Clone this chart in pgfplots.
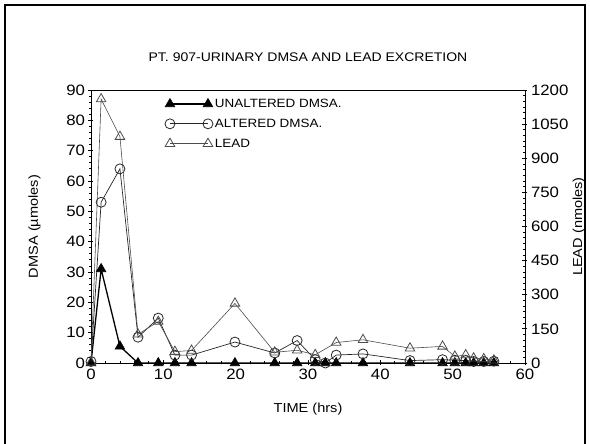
\documentclass[border=0pt]{standalone}
\usepackage{fontspec}
\setmainfont{Liberation Sans}[FakeStretch=1.12]
\usepackage{pgfplots}
\pgfplotsset{compat=1.18}

\pgfplotsset{
  endsmarks/.style={legend image code/.code={%
    \draw[mark repeat=2,mark phase=1,##1] plot coordinates {(0pt,0pt) (19pt,0pt) (38pt,0pt)};}},
}

\begin{document}
\begin{tikzpicture}[font=\fontsize{13}{15}\selectfont]
\useasboundingbox (-91pt,-81pt) rectangle (499pt,363pt);
\draw[line width=2.5pt] (-86pt,-82pt) -- (-86pt,358pt) -- (494pt,358pt) -- (494pt,-82pt);

\begin{axis}[
  at={(0pt,0pt)}, anchor=south west,
  width=434pt, height=273pt, scale only axis,
  xmin=0, xmax=60, ymin=0, ymax=90,
  xtick={0,10,...,60}, ytick={0,10,...,90},
  minor x tick num=4, minor y tick num=4,
  xtick pos=left, ytick pos=left,
  tick align=center,
  major tick length=5pt, minor tick length=3pt,
  axis line style={line width=0.9pt},
  every tick/.style={black, line width=0.8pt},
  /pgf/number format/assume math mode=true,
  ticklabel style={font=\fontsize{15}{17}\selectfont},
  title={PT. 907-URINARY DMSA AND LEAD EXCRETION},
  title style={at={(axis description cs:0.5,1)}, anchor=base, yshift=22pt, font=\fontsize{12.5}{15}\selectfont},
  xlabel={TIME (hrs)},
  xlabel style={at={(axis description cs:0.5,0)}, anchor=base, yshift=-50pt},
  ylabel={DMSA (µmoles)},
  ylabel style={at={(axis description cs:-0.130,0.5)}, anchor=center},
  endsmarks,
  legend style={at={(axis description cs:0.17,0.975)}, anchor=north west,
    draw=none, fill=none, inner sep=0pt, row sep=6pt,
    font=\fontsize{12}{14}\selectfont},
  legend cell align=left,
]
\addplot[black, line width=1.3pt, mark=triangle*, mark size=5.5pt,
  mark options={line width=0.6pt}]
  coordinates {(0,0) (1.4,31) (4.0,5.5) (6.5,0) (9.3,0) (11.6,0) (13.9,0)
  (19.9,0) (25.4,0) (28.5,0) (31.0,0) (32.4,0) (33.9,0) (37.6,0) (44.1,0)
  (48.6,0) (50.3,0) (51.8,0) (52.9,0) (54.3,0) (55.7,0)};
\addlegendentry{UNALTERED DMSA.}
\addplot[black!85, line width=0.7pt, mark=o, mark size=5pt,
  mark options={fill=white, line width=0.8pt}]
  coordinates {(0,0.5) (1.4,53) (4.0,64) (6.5,8.5) (9.3,14.8) (11.6,2.6)
  (13.9,2.6) (19.9,6.9) (25.4,3.3) (28.5,7.4) (31.0,1.1) (32.4,0)
  (33.9,2.6) (37.6,3.0) (44.1,0.8) (48.6,1.1) (50.3,0.9) (51.8,0.8)
  (52.9,0.5) (54.3,0.5) (55.7,0.6)};
\addlegendentry{ALTERED DMSA.}
\addlegendimage{black!70, line width=0.6pt, mark=triangle, mark size=5.5pt,
  mark options={fill=white, line width=0.8pt}}
\addlegendentry{LEAD}
\end{axis}

\begin{axis}[
  at={(0pt,0pt)}, anchor=south west,
  width=434pt, height=273pt, scale only axis,
  xmin=0, xmax=60, ymin=0, ymax=1200,
  axis x line=none, axis y line*=right,
  ytick={0,150,...,1200}, minor y tick num=5,
  tick align=center,
  major tick length=5pt, minor tick length=3pt,
  axis line style={line width=0.9pt},
  every tick/.style={black, line width=0.8pt},
  /pgf/number format/assume math mode=true,
  /pgf/number format/1000 sep={},
  ticklabel style={font=\fontsize{15}{17}\selectfont},
  ylabel={LEAD (nmoles)},
  ylabel style={at={(axis description cs:1.124,0.5)}, anchor=center, rotate=0},
]
\addplot[black!70, line width=0.6pt, mark=triangle, mark size=5.5pt,
  mark options={fill=white, line width=0.8pt}]
  coordinates {(0,3) (1.4,1160) (4.0,995) (6.5,126) (9.3,182) (11.6,50)
  (13.9,55) (19.9,262) (25.4,47) (28.5,56) (31.0,36) (33.9,90) (37.6,102)
  (44.1,65) (48.6,73) (50.3,29) (51.8,35) (52.9,21) (54.3,18) (55.7,12)};
\end{axis}
\end{tikzpicture}
\end{document}
